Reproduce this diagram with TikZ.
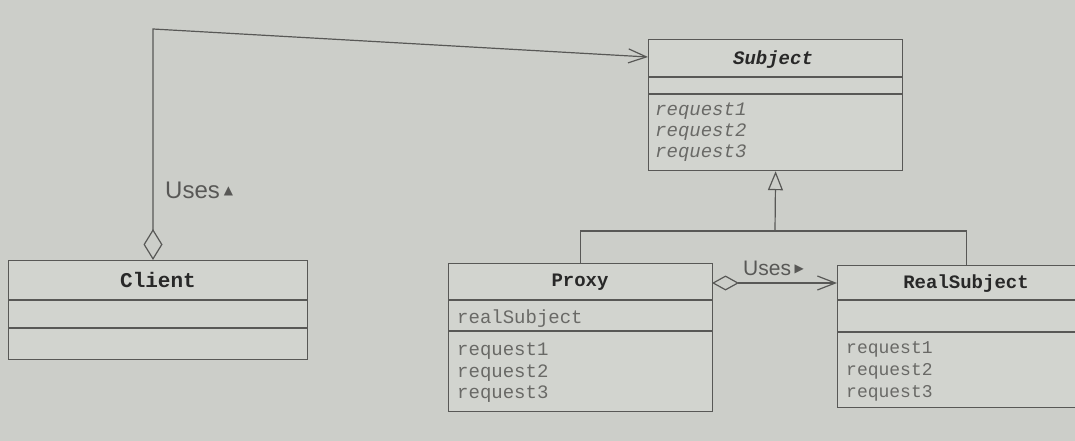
\documentclass[tikz,border=0pt]{standalone}
\usepackage{fontspec}
\setmainfont{Liberation Sans}
\setmonofont{Liberation Mono}
\newfontfamily\symfont{DejaVu Sans}
\usetikzlibrary{arrows.meta}
\definecolor{bg}{RGB}{204,206,201}
\definecolor{boxfill}{RGB}{210,212,207}
\definecolor{linec}{RGB}{88,88,86}
\definecolor{namec}{RGB}{40,40,40}
\definecolor{memc}{RGB}{105,105,102}
\tikzset{
  cls/.style={draw=linec, line width=1.2pt, fill=boxfill, rectangle, inner sep=0pt, anchor=north west},
  sep/.style={draw=linec, line width=1.2pt},
  cname/.style={font=\ttfamily\bfseries\fontsize{19}{21}\selectfont, text=namec, inner sep=0pt},
  members/.style={font=\ttfamily\fontsize{19}{21.5}\selectfont, text=memc, align=left, anchor=north west, inner sep=0pt},
  conn/.style={draw=linec, line width=1.2pt},
  lbl/.style={font=\fontsize{20}{22}\selectfont, text=linec, inner sep=0pt},
}
\begin{document}
\begin{tikzpicture}[x=1pt,y=-1pt]
\fill[bg] (0,0) rectangle (1075,441);
\useasboundingbox (0,0) rectangle (1075,441);
\clip (0,0) rectangle (1075,441);

% Subject
\node[cls, minimum width=254pt, minimum height=131pt] (subject) at (648,39) {};
\draw[sep] (648,77) -- (902,77);
\draw[sep] (648,94) -- (902,94);
\node[cname, font=\ttfamily\bfseries\itshape\fontsize{19}{21}\selectfont] (subjectname) at (773,60) {Subject};
\node[members, font=\ttfamily\itshape\fontsize{19}{21}\selectfont] (subjectops) at (655,103) {request1\\request2\\request3};

% Client
\node[cls, minimum width=299pt, minimum height=99pt] (client) at (8,260) {};
\draw[sep] (8,300) -- (307,300);
\draw[sep] (8,328) -- (307,328);
\node[cname, font=\ttfamily\bfseries\fontsize{21}{23}\selectfont] (clientname) at (158,280) {Client};

% Proxy
\node[cls, minimum width=264pt, minimum height=148pt] (proxy) at (448,263) {};
\draw[sep] (448,300) -- (712,300);
\draw[sep] (448,331) -- (712,331);
\node[cname] (proxyname) at (580,282) {Proxy};
\node[members] (proxyattr) at (457,310) {realSubject};
\node[members] (proxyops) at (457,343) {request1\\request2\\request3};

% RealSubject
\node[cls, minimum width=258pt, minimum height=142pt] (real) at (837,265) {};
\draw[sep] (837,300) -- (1095,300);
\draw[sep] (837,332) -- (1095,332);
\node[cname] (realname) at (966,284) {RealSubject};
\node[members, font=\ttfamily\fontsize{18}{22}\selectfont] (realops) at (846,341) {request1\\request2\\request3};

% Generalization
\coordinate (junction) at (775,231);
\draw[conn, -{Triangle[open,length=19pt,width=15pt,line width=1.2pt]}] (junction) -- (subject.south);
\draw[conn] (proxy.north) |- (junction) -| (real.north);

% Client uses Subject
\coordinate (cltop) at (153,260);
\coordinate (clcorner) at (153,29);
\coordinate (subjin) at (648,57);
\draw[conn, {Diamond[open,length=31pt,width=19pt,line width=1.2pt]}-{Straight Barb[length=18pt,width=14pt,line width=1.2pt]}] (cltop) -- (clcorner) -- (subjin);
\node[lbl, font=\fontsize{24}{26}\selectfont, anchor=west] (uses1) at (165,190) {Uses\,\raisebox{4pt}{\symfont\fontsize{12}{12}\selectfont ▲}};

% Proxy uses RealSubject
\coordinate (pxout) at (712,283);
\coordinate (rsin) at (837,283);
\draw[conn, {Diamond[open,length=27pt,width=15pt,line width=1.2pt]}-{Straight Barb[length=18pt,width=14pt,line width=1.2pt]}] (pxout) -- (rsin);
\node[lbl, font=\fontsize{21}{23}\selectfont, anchor=west] (uses2) at (743,268) {Uses\,\raisebox{3pt}{\symfont\fontsize{12}{12}\selectfont ▶}};
\end{tikzpicture}
\end{document}
